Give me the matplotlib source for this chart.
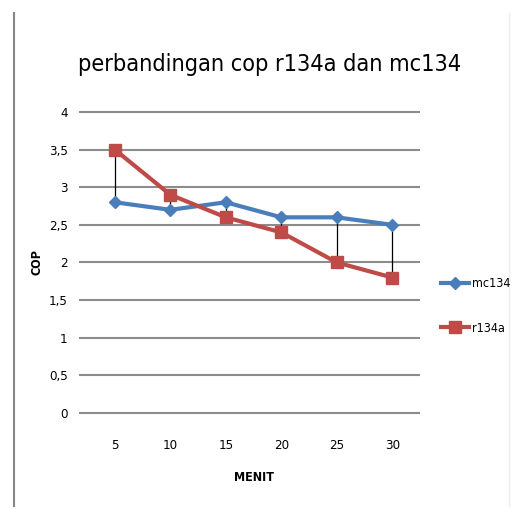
import matplotlib
matplotlib.use("Agg")
import matplotlib.pyplot as plt
import numpy as np
from matplotlib.lines import Line2D

plt.rcParams['font.family'] = ['DejaVu Sans']
plt.rcParams['font.stretch'] = 'condensed'

categories = ["5", "10", "15", "20", "25", "30"]
mc134 = [2.8, 2.7, 2.8, 2.6, 2.6, 2.5]
r134a = [3.5, 2.9, 2.6, 2.4, 2.0, 1.8]
yticks = [0, 0.5, 1, 1.5, 2, 2.5, 3, 3.5, 4]
ytick_labels = ["0", "0,5", "1", "1,5", "2", "2,5", "3", "3,5", "4"]

fig = plt.figure(figsize=(5.18, 5.16), dpi=100)
pad = 0.03
ax = fig.add_axes([0.168, 0.1996 - 0.5834 * pad / 4, 0.643, 0.5834 * (4 + 2 * pad) / 4])

x = np.arange(len(categories))
ax.vlines(x, np.minimum(mc134, r134a), np.maximum(mc134, r134a), colors='black', linewidth=0.9, zorder=2)
ax.plot(x, mc134, color='#4A7EBB', linewidth=3, marker='D', markersize=6, label='mc134', zorder=3)
ax.plot(x, r134a, color='#BE4B48', linewidth=3, marker='s', markersize=8, label='r134a', zorder=4)

ax.set_xlim(-0.5, len(categories) - 0.5)
ax.set_ylim(-pad, 4 + pad)
ax.set_yticks(yticks)
ax.set_yticklabels(ytick_labels)
ax.set_xticks(x)
ax.set_xticklabels(categories)
ax.yaxis.grid(True, color='#8c8c8c', linewidth=1.5)
ax.set_axisbelow(True)
for s in ax.spines.values():
    s.set_visible(False)
ax.tick_params(axis='y', length=6, color='#8c8c8c', width=1.5, labelsize=9.5, pad=8)
ax.tick_params(axis='x', length=0, labelsize=9.5, pad=17)
ax.set_xlabel("MENIT", fontsize=9, fontweight='bold', labelpad=14)
ax.set_ylabel("COP", fontsize=9, fontweight='bold', labelpad=4)

fig.text(0.521, 0.875, "perbandingan cop r134a dan mc134", ha='center', va='center', fontsize=16.8)

leg = fig.legend(loc='center left', bbox_to_anchor=(0.83, 0.407), frameon=False,
                 fontsize=9, handlelength=2.2, labelspacing=2.5, handletextpad=0.3)

fig.add_artist(Line2D([0.027, 0.027], [0.02, 0.975], color='#888888', linewidth=1.5))
fig.add_artist(Line2D([0.982, 0.982], [0.02, 0.975], color='#eeeeee', linewidth=1.0))

fig.savefig("out.png", dpi=100)
